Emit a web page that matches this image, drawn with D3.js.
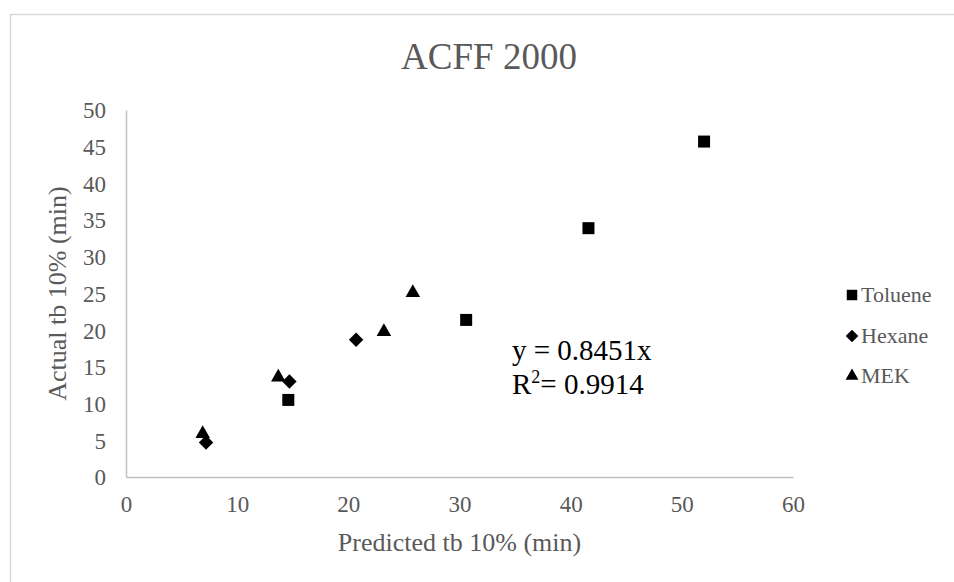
<!DOCTYPE html>
<html>
<head>
<meta charset="utf-8">
<script src="https://cdn.jsdelivr.net/npm/d3@7"></script>
<style>
  html, body { margin: 0; padding: 0; background: #fff; }
  svg { display: block; }
  text { font-family: "Liberation Serif", "Times New Roman", serif; }
</style>
</head>
<body>
<svg id="chart" width="954" height="582"></svg>
<script>
// ---- Data ----
const title = "ACFF 2000";
const xAxisTitle = "Predicted tb 10% (min)";
const yAxisTitle = "Actual tb 10% (min)";
const seriesNames = ["Toluene", "Hexane", "MEK"];
const tolueneX = [14.6, 30.6, 41.6, 52.0];
const tolueneY = [10.5, 21.4, 33.9, 45.7];
const hexaneX = [7.2, 14.7, 20.7];
const hexaneY = [4.7, 13.0, 18.7];
const mekX = [6.9, 13.7, 23.2, 25.8];
const mekY = [5.9, 13.6, 19.8, 25.1];
const xTicks = [0, 10, 20, 30, 40, 50, 60];
const yTicks = [0, 5, 10, 15, 20, 25, 30, 35, 40, 45, 50];
const eqLine1 = "y = 0.8451x";
const eqR2Value = "= 0.9914";

// ---- Layout ----
const svg = d3.select("#chart");
const W = 954, H = 582;
const plot = { left: 126, right: 793, top: 110, bottom: 477 };
const gray = "#595959";
const axisGray = "#bfbfbf";

// chart border
svg.append("rect")
  .attr("x", 10.5).attr("y", 14.5)
  .attr("width", W + 20).attr("height", H + 20)
  .attr("fill", "#fff").attr("stroke", "#d9d9d9").attr("stroke-width", 1.5);

const x = d3.scaleLinear().domain([0, 60]).range([plot.left, plot.right]);
const y = d3.scaleLinear().domain([0, 50]).range([plot.bottom, plot.top]);

// Axes
const xAxis = d3.axisBottom(x).tickValues(xTicks).tickSize(0).tickPadding(20).tickFormat(d3.format("d"));
const yAxis = d3.axisLeft(y).tickValues(yTicks).tickSize(0).tickPadding(20).tickFormat(d3.format("d"));

const gx = svg.append("g").attr("transform", `translate(0,${plot.bottom})`).call(xAxis);
const gy = svg.append("g").attr("transform", `translate(${plot.left},0)`).call(yAxis);
[gx, gy].forEach(g => {
  g.select(".domain").attr("stroke", axisGray).attr("stroke-width", 1.5);
  g.selectAll("text")
    .attr("fill", gray)
    .style("font-family", '"Liberation Serif", "Times New Roman", serif')
    .style("font-size", "23px");
});
gx.selectAll("text").attr("dy", "0.71em").attr("y", 19);
gy.selectAll("text").attr("dy", "0.34em");

// Title
svg.append("text")
  .attr("x", 489).attr("y", 69)
  .attr("text-anchor", "middle")
  .attr("fill", gray)
  .style("font-size", "37px")
  .text(title);

// Axis titles
svg.append("text")
  .attr("x", (plot.left + plot.right) / 2).attr("y", 551)
  .attr("text-anchor", "middle")
  .attr("fill", gray)
  .style("font-size", "26px")
  .text(xAxisTitle);

svg.append("text")
  .attr("transform", `translate(66,${(plot.top + plot.bottom) / 2}) rotate(-90)`)
  .attr("text-anchor", "middle")
  .attr("fill", gray)
  .style("font-size", "26px")
  .text(yAxisTitle);

// Marker shapes: square, 45°-rotated square (diamond), triangle
const rotSquare = {
  draw(ctx, size) {
    const r = Math.sqrt(size) / Math.SQRT2;
    ctx.moveTo(0, -r); ctx.lineTo(r, 0); ctx.lineTo(0, r); ctx.lineTo(-r, 0); ctx.closePath();
  }
};
const shapeType = { Toluene: d3.symbolSquare, Hexane: rotSquare, MEK: d3.symbolTriangle };
const markSize = { Toluene: 144, Hexane: 104, MEK: 92 };
const legendSize = { Toluene: 110, Hexane: 80, MEK: 72 };

const series = [
  { name: "Toluene", xs: tolueneX, ys: tolueneY },
  { name: "Hexane", xs: hexaneX, ys: hexaneY },
  { name: "MEK", xs: mekX, ys: mekY }
];

const gPts = svg.append("g");
series.forEach(s => {
  const pts = s.xs.map((v, i) => ({ x: v, y: s.ys[i] }));
  gPts.selectAll(null).data(pts).enter().append("path")
    .attr("d", d3.symbol().type(shapeType[s.name]).size(markSize[s.name]))
    .attr("transform", d => `translate(${x(d.x)},${y(d.y)})`)
    .attr("fill", "#000");
});

// Equation annotation
const eq = svg.append("g").attr("fill", "#000").style("font-size", "29px");
eq.append("text").attr("x", 512).attr("y", 360).text(eqLine1);
const r2 = eq.append("text").attr("x", 512).attr("y", 394);
r2.append("tspan").text("R");
r2.append("tspan").attr("dy", -11).style("font-size", "18px").text("2");
r2.append("tspan").attr("dy", 11).text(eqR2Value);

// Legend
const legend = svg.append("g");
const legendY = [295, 336, 376];
seriesNames.forEach((name, i) => {
  const row = legend.append("g").attr("transform", `translate(852,${legendY[i]})`);
  row.append("path")
    .attr("d", d3.symbol().type(shapeType[name]).size(legendSize[name]))
    .attr("fill", "#000");
  row.append("text")
    .attr("x", 9).attr("dy", "0.34em")
    .attr("fill", gray)
    .style("font-size", "22px")
    .text(name);
});
</script>
</body>
</html>
